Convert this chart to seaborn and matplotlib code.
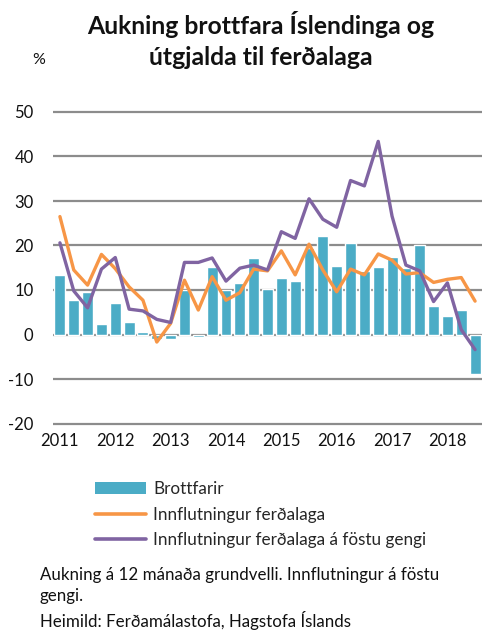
import numpy as np
import pandas as pd
import matplotlib
matplotlib.use("Agg")
import matplotlib.pyplot as plt
import seaborn as sns
from matplotlib.patches import Patch
from matplotlib.lines import Line2D

# ---- data (quarterly, 2011Q1 - 2018Q3) ----
quarters = [f"{y}Q{q}" for y in range(2011, 2019) for q in range(1, 5)][:31]
brottfarir = [13.4, 7.7, 9.5, 2.3, 7.0, 2.7, 0.5, -1.0, -1.0, 10.0, -0.6, 15.1,
              10.0, 11.5, 17.3, 10.2, 12.8, 12.0, 19.4, 22.1, 15.3, 20.6, 14.3,
              15.2, 17.4, 14.9, 20.1, 6.5, 4.1, 5.5, -8.8]
innflutningur = [26.5, 14.5, 11.1, 18.0, 14.8, 10.7, 7.7, -1.7, 2.5, 12.2, 5.5,
                 13.0, 7.7, 9.4, 14.7, 14.3, 18.8, 13.4, 20.3, 14.5, 9.6, 14.7,
                 13.4, 18.1, 16.7, 13.6, 13.9, 11.7, 12.4, 12.8, 7.5]
fast_gengi = [20.6, 9.8, 6.0, 14.7, 17.3, 5.7, 5.3, 3.4, 2.7, 16.2, 16.2, 17.2,
              12.0, 14.9, 15.6, 14.5, 23.1, 21.6, 30.5, 25.9, 24.1, 34.6, 33.4,
              43.4, 26.6, 15.6, 14.3, 7.4, 11.6, 1.1, -3.4]
year_labels = ["2011", "2012", "2013", "2014", "2015", "2016", "2017", "2018"]
yticks = [-20, -10, 0, 10, 20, 30, 40, 50]

labels = ["Brottfarir", "Innflutningur ferðalaga",
          "Innflutningur ferðalaga á föstu gengi"]

C_BAR = "#4BACC6"
C_OR = "#F79646"
C_PU = "#8064A2"

sns.set_theme(style="white")
plt.rcParams["font.family"] = ["Lato", "DejaVu Sans"]

df = pd.DataFrame({"q": np.arange(len(quarters)), "quarter": quarters,
                   "brottfarir": brottfarir, "innfl": innflutningur,
                   "fast": fast_gengi})

fig = plt.figure(figsize=(4.83, 6.30), dpi=100)
W, H = 483, 630
x0, x1 = 53, 482
ylo, yhi = -20.5, 50.5
pxu = (423.5 - 112) / 70.0
ytop = 112 - 0.5 * pxu
ybot = 423.5 + 0.5 * pxu
ax = fig.add_axes([x0 / W, 1 - ybot / H, (x1 - x0) / W, (ybot - ytop) / H])

sns.barplot(data=df, x="q", y="brottfarir", color=C_BAR, width=0.79,
            saturation=1, ax=ax, zorder=3, native_scale=True)
sns.lineplot(data=df, x="q", y="innfl", color=C_OR, lw=2.4, ax=ax, zorder=4)
sns.lineplot(data=df, x="q", y="fast", color=C_PU, lw=2.4, ax=ax, zorder=5)

ax.set_xlim(-0.5, len(quarters) - 0.5)
ax.set_ylim(ylo, yhi)
ax.set_yticks(yticks)
ax.set_yticklabels([str(v) for v in yticks], fontsize=12, color="#111111")
ax.set_xticks(np.arange(0, len(quarters), 4))
ax.set_xticklabels(year_labels, fontsize=12, color="#111111")
ax.tick_params(axis="both", length=0, pad=5)
ax.tick_params(axis="y", pad=14)
ax.set_xlabel("")
ax.set_ylabel("")
for s in ax.spines.values():
    s.set_visible(False)
ax.yaxis.grid(True, color="#8c8c8c", lw=1.6, zorder=0)
ax.xaxis.grid(False)
ax.set_axisbelow(True)

fig.text(0.54, 1 - 11 / H, "Aukning brottfara Íslendinga og\nútgjalda til ferðalaga",
         ha="center", va="top", fontsize=17.8, fontweight="bold",
         linespacing=1.42, color="#111111")
fig.text(39 / W, 1 - 60 / H, "%", ha="center", va="center", fontsize=11.5,
         color="#111111")

handles = [Patch(facecolor=C_BAR, edgecolor="none"),
           Line2D([], [], color=C_OR, lw=2.6),
           Line2D([], [], color=C_PU, lw=2.6)]
fig.legend(handles, labels, loc="upper left", bbox_to_anchor=(95 / W, 1 - 481 / H),
           frameon=False, fontsize=12.3, handlelength=3.0, handletextpad=0.4,
           borderpad=0, borderaxespad=0, labelspacing=0.56)

fig.text(40 / W, 1 - 567 / H,
         "Aukning á 12 mánaða grundvelli. Innflutningur á föstu\ngengi.\n"
         "Heimild: Ferðamálastofa, Hagstofa Íslands",
         ha="left", va="top", fontsize=12.2, linespacing=1.42,
         color="#111111")

fig.savefig("out.png", dpi=100)
